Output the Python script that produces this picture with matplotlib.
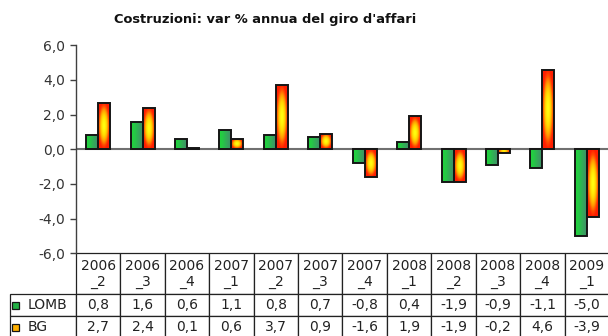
import numpy as np
import matplotlib
matplotlib.use('Agg')
from matplotlib import pyplot as plt
from matplotlib.colors import LinearSegmentedColormap
from matplotlib.patches import Rectangle

# quarterly data
periods = ['2006_2', '2006_3', '2006_4', '2007_1', '2007_2', '2007_3',
           '2007_4', '2008_1', '2008_2', '2008_3', '2008_4', '2009_1']
lomb = [0.8, 1.6, 0.6, 1.1, 0.8, 0.7, -0.8, 0.4, -1.9, -0.9, -1.1, -5.0]
bg = [2.7, 2.4, 0.1, 0.6, 3.7, 0.9, -1.6, 1.9, -1.9, -0.2, 4.6, -3.9]
series_names = ['LOMB', 'BG']
yticks = [-6, -4, -2, 0, 2, 4, 6]
title = "Costruzioni: var % annua del giro d'affari"

W, H = 608, 336
fig = plt.figure(figsize=(W / 100, H / 100), dpi=100)
ax = fig.add_axes([76 / W, (H - 253.3) / H, 533 / W, 208 / H])

green_cmap = LinearSegmentedColormap.from_list('grn', ['#1fd63a', '#26c647', '#35a85a', '#3f8e69'])
fire_cmap = LinearSegmentedColormap.from_list('fire', ['#ffff10', '#ffd800', '#ff9a00', '#ff4a00', '#ff1e00'])

# gradient textures for the bars
green_tex = np.linspace(0, 1, 32)[None, :]
u = np.linspace(-1, 1, 40)[None, :]
v = np.linspace(-1, 1, 120)[:, None]
fire_tex = np.clip(np.sqrt(u ** 2 + v ** 2), 0, 1) ** 1.7

x = np.arange(len(periods))
bw = 0.27
bars1 = ax.bar(x - bw / 2, lomb, bw, facecolor='none', edgecolor='#151515', linewidth=1.4, zorder=3)
bars2 = ax.bar(x + bw / 2, bg, bw, facecolor='none', edgecolor='#151515', linewidth=1.4, zorder=3)


def fill_gradient(bars, tex, cmap):
    for p in bars:
        x0, y0 = p.get_x(), p.get_y()
        x1, y1 = x0 + p.get_width(), y0 + p.get_height()
        im = ax.imshow(tex, cmap=cmap, vmin=0, vmax=1, aspect='auto', origin='lower',
                       extent=[x0, x1, min(y0, y1), max(y0, y1)],
                       interpolation='bilinear', zorder=2)
        im.set_clip_path(p)


fill_gradient(bars1, green_tex, green_cmap)
fill_gradient(bars2, fire_tex, fire_cmap)

ax.axhline(0, color='#707070', lw=1.5, zorder=1.5)
ax.set_xlim(-0.5, len(periods) - 0.5)
ax.set_ylim(-6, 6)
ax.set_xticks([])
ax.set_yticks(yticks)
ax.set_yticklabels([f'{t:.1f}'.replace('.', ',') for t in yticks])
ax.tick_params(axis='y', length=4, width=1, color='#404040', labelcolor='#333333',
               labelsize=10, pad=4)
for side in ('top', 'right', 'bottom'):
    ax.spines[side].set_visible(False)
ax.spines['left'].set_color('#404040')
ax.spines['left'].set_linewidth(1)

# data table below the plot
fmt = lambda s: [f'{val:.1f}'.replace('.', ',') for val in s]
rows = [[''] + [p.replace('_', '\n_') for p in periods]]
rows += [[name] + fmt(vals) for name, vals in zip(series_names, (lomb, bg))]

col0_w, col_w = 66, 533 / len(periods)
row_h = [41, 22, 22]
tbl = ax.table(cellText=rows, cellLoc='center',
               bbox=[-col0_w / 533, -sum(row_h) / 208, (col0_w + 533) / 533, sum(row_h) / 208])
tbl.auto_set_font_size(False)
tbl.set_fontsize(10)
for (r, c), cell in tbl.get_celld().items():
    cell.set_width(col0_w if c == 0 else col_w)
    cell.set_height(row_h[r])
    cell.set_linewidth(0.9)
    cell.set_edgecolor('#222222')
    cell.get_text().set_color('#222222')
    if c == 0 and r > 0:
        cell.get_text().set_ha('left')
        cell.PAD = 18 / col0_w
tbl[0, 0].visible_edges = ''

# legend swatches in the table
sw = 7
for row_top, fc in ((294, '#22b044'), (316, '#ffb000')):
    cy = row_top + 11
    fig.add_artist(Rectangle((12 / W, (H - cy - sw / 2) / H), sw / W, sw / H,
                             transform=fig.transFigure, facecolor=fc,
                             edgecolor='#151515', linewidth=0.9))

fig.text(265 / W, 1 - 20 / H, title, ha='center', va='center',
         fontsize=9.4, fontweight='bold', color='#111111')

fig.savefig('out.png', dpi=100)
